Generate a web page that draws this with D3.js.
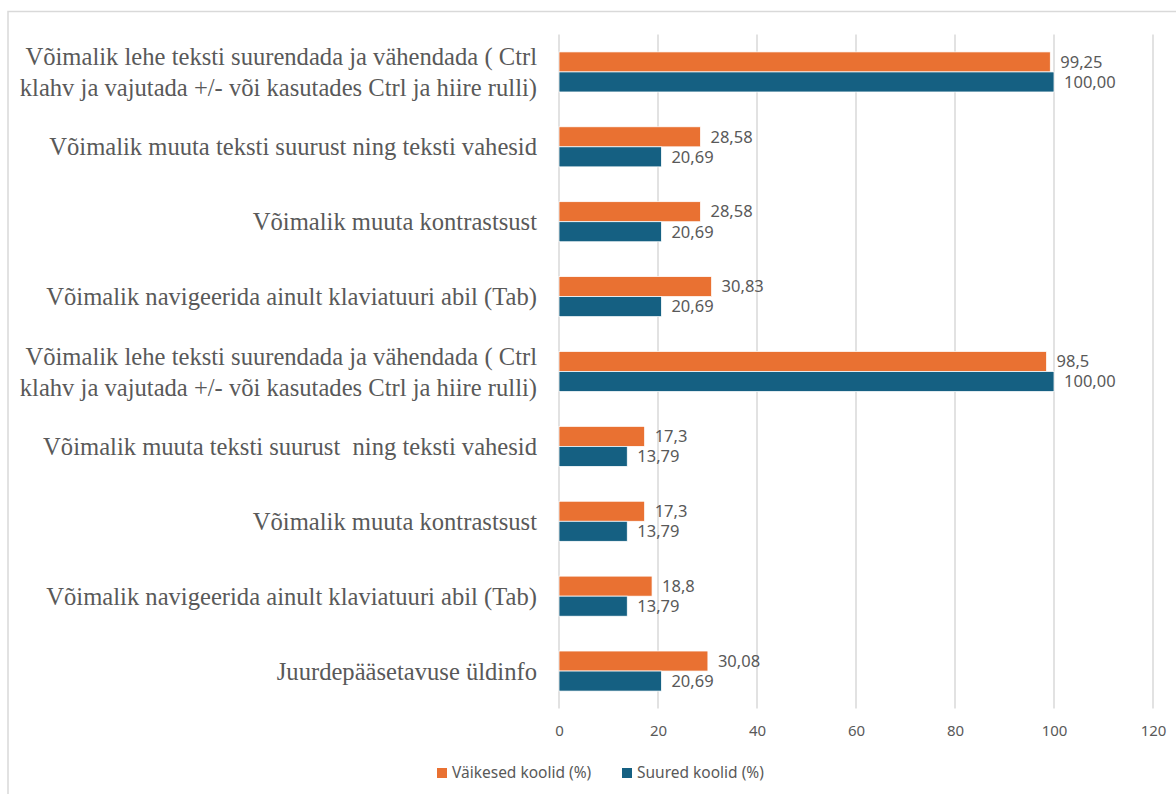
<!DOCTYPE html>
<html>
<head>
<meta charset="utf-8">
<script src="https://cdn.jsdelivr.net/npm/d3@7"></script>
<style>
  body { margin: 0; background: #fff; }
  svg { display: block; }
</style>
</head>
<body>
<div class="chart"></div>
<script>
// categories, top to bottom (each entry = lines of the label)
var categories = [
    ["Võimalik lehe teksti suurendada ja vähendada ( Ctrl", "klahv ja vajutada +/- või kasutades Ctrl ja hiire rulli)"],
    ["Võimalik muuta teksti suurust ning teksti vahesid"],
    ["Võimalik muuta kontrastsust"],
    ["Võimalik navigeerida ainult klaviatuuri abil (Tab)"],
    ["Võimalik lehe teksti suurendada ja vähendada ( Ctrl", "klahv ja vajutada +/- või kasutades Ctrl ja hiire rulli)"],
    ["Võimalik muuta teksti suurust  ning teksti vahesid"],
    ["Võimalik muuta kontrastsust"],
    ["Võimalik navigeerida ainult klaviatuuri abil (Tab)"],
    ["Juurdepääsetavuse üldinfo"]
];
// series values
var smallSchools = [99.25, 28.58, 28.58, 30.83, 98.5, 17.3, 17.3, 18.8, 30.08];
var smallLabels = ["99,25", "28,58", "28,58", "30,83", "98,5", "17,3", "17,3", "18,8", "30,08"];
var bigSchools = [100, 20.69, 20.69, 20.69, 100, 13.79, 13.79, 13.79, 20.69];
var bigLabels = ["100,00", "20,69", "20,69", "20,69", "100,00", "13,79", "13,79", "13,79", "20,69"];
var seriesNames = ["Väikesed koolid (%)", "Suured koolid (%)"];
var xTicks = [0, 20, 40, 60, 80, 100, 120];

var colors = ["#E97132", "#156082"];
var textColor = "#595959";

var svgWidth = 1176, svgHeight = 794;
var margin = { top: 34.5, bottom: 85.5, left: 559, right: 23 };
var width = svgWidth - margin.left - margin.right;
var height = svgHeight - margin.top - margin.bottom;

var svg = d3.select(".chart").append("svg")
    .attr("width", svgWidth)
    .attr("height", svgHeight);

// outer frame
svg.append("rect")
    .attr("x", 8).attr("y", 11.5)
    .attr("width", 1200).attr("height", 800)
    .attr("fill", "none")
    .attr("stroke", "#d9d9d9")
    .attr("stroke-width", 1.5);

var chartGroup = svg.append("g")
    .attr("transform", `translate(${margin.left}, ${margin.top})`);

var x = d3.scaleLinear().domain([0, 120]).range([0, width]);
var idx = d3.range(categories.length);
var y = d3.scaleBand().domain(idx).range([0, height]).paddingInner(0.465).paddingOuter(0.2325);
var barH = y.bandwidth() / 2;

// gridlines
chartGroup.selectAll(".grid")
    .data(xTicks)
    .enter().append("line")
    .attr("x1", d => x(d)).attr("x2", d => x(d))
    .attr("y1", 0).attr("y2", height)
    .attr("stroke", "#d9d9d9")
    .attr("stroke-width", 1.5);

// x axis labels
var bottomAxis = d3.axisBottom(x).tickValues(xTicks).tickSize(0).tickPadding(17);
var axisG = chartGroup.append("g")
    .attr("transform", `translate(0, ${height})`)
    .call(bottomAxis);
axisG.select(".domain").remove();
axisG.selectAll("text")
    .attr("fill", textColor)
    .style("font-family", "'Noto Sans', sans-serif")
    .style("font-size", "15px");

// bars
var series = [
    { vals: smallSchools, labels: smallLabels, off: 0, color: colors[0] },
    { vals: bigSchools, labels: bigLabels, off: barH, color: colors[1] }
];
series.forEach(function(s) {
    chartGroup.selectAll(null)
        .data(idx)
        .enter().append("rect")
        .attr("x", 0)
        .attr("y", i => y(i) + s.off)
        .attr("width", i => x(s.vals[i]))
        .attr("height", barH)
        .attr("fill", s.color)
        .attr("stroke", "#fff")
        .attr("stroke-width", 0.75);

    chartGroup.selectAll(null)
        .data(idx)
        .enter().append("text")
        .attr("x", i => x(s.vals[i]) + 10)
        .attr("y", i => y(i) + s.off + barH / 2)
        .attr("dy", "0.35em")
        .attr("fill", textColor)
        .style("font-family", "'Noto Sans', sans-serif")
        .style("font-size", "16.5px")
        .text(i => s.labels[i]);
});

// category labels
var catG = chartGroup.selectAll(".cat")
    .data(idx)
    .enter().append("text")
    .attr("text-anchor", "end")
    .attr("fill", textColor)
    .style("font-family", "'Liberation Serif', 'Times New Roman', serif")
    .style("font-size", "24.6px")
    .style("white-space", "pre");
catG.each(function(i) {
    var lines = categories[i];
    var lh = 31;
    var cy = y(i) + y.bandwidth() / 2;
    var t = d3.select(this);
    lines.forEach(function(line, k) {
        t.append("tspan")
            .attr("x", -22)
            .attr("y", cy + (k - (lines.length - 1) / 2) * lh)
            .attr("dy", "0.35em")
            .text(line);
    });
});

// legend
var legend = svg.append("g").attr("transform", "translate(0, 773)");
var legendX = [437, 622];
seriesNames.forEach(function(name, k) {
    legend.append("rect")
        .attr("x", legendX[k]).attr("y", -5)
        .attr("width", 10).attr("height", 10)
        .attr("fill", colors[k]);
    legend.append("text")
        .attr("x", legendX[k] + 15)
        .attr("y", 0)
        .attr("dy", "0.35em")
        .attr("fill", textColor)
        .style("font-family", "'Noto Sans', sans-serif")
        .style("font-size", "15.5px")
        .text(name);
});
</script>
</body>
</html>
